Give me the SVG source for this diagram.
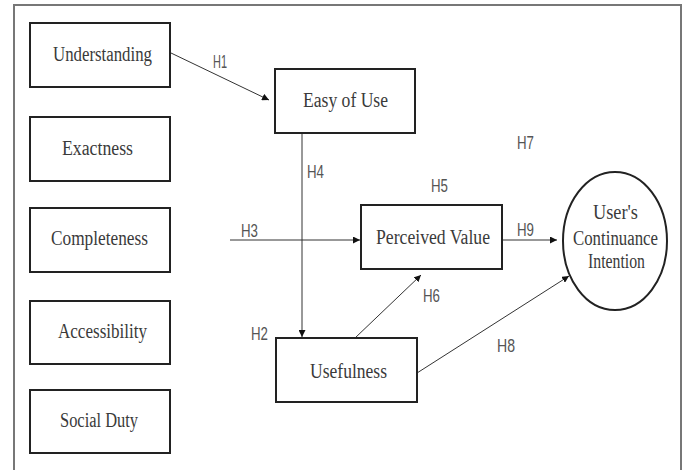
<svg xmlns="http://www.w3.org/2000/svg" width="687" height="470" viewBox="0 0 687 470">
<defs>
<marker id="arr" viewBox="0 0 10 10" refX="10" refY="5" markerWidth="7" markerHeight="7" markerUnits="userSpaceOnUse" orient="auto">
<path d="M0,0 L10,5 L0,10 z" fill="#111"/>
</marker>
</defs>
<style>
.box{fill:#fff;stroke:#222;stroke-width:2}
.t{font-size:20px;fill:#3a3a3a;text-anchor:middle}
.lbl{font-size:19px;fill:#555}
.c{stroke:#333;stroke-width:1;fill:none;marker-end:url(#arr)}
</style>
<rect width="687" height="470" fill="#fff"/>
<path d="M14,470 L14,5 L681,5 L681,470" fill="none" stroke="#777" stroke-width="2"/>
<g id="connectors">
<line class="c" x1="171" y1="53" x2="269" y2="100"/>
<line class="c" x1="302" y1="134" x2="302" y2="337"/>
<line class="c" x1="230" y1="240" x2="360" y2="240"/>
<line class="c" x1="502" y1="240" x2="557" y2="240"/>
<line class="c" x1="355" y1="338" x2="421" y2="275"/>
<line class="c" x1="417" y1="373" x2="569" y2="276"/>
</g>
<g id="labels" font-family="Liberation Sans, Arial, sans-serif">
<text class="lbl" x="213" y="68" textLength="14" lengthAdjust="spacingAndGlyphs">H1</text>
<text class="lbl" x="307" y="178" textLength="17" lengthAdjust="spacingAndGlyphs">H4</text>
<text class="lbl" x="241" y="237" textLength="17" lengthAdjust="spacingAndGlyphs">H3</text>
<text class="lbl" x="251" y="340" textLength="17" lengthAdjust="spacingAndGlyphs">H2</text>
<text class="lbl" x="431" y="192" textLength="17" lengthAdjust="spacingAndGlyphs">H5</text>
<text class="lbl" x="517" y="149" textLength="17" lengthAdjust="spacingAndGlyphs">H7</text>
<text class="lbl" x="517" y="236" textLength="17" lengthAdjust="spacingAndGlyphs">H9</text>
<text class="lbl" x="423" y="302" textLength="17" lengthAdjust="spacingAndGlyphs">H6</text>
<text class="lbl" x="497" y="352" textLength="18" lengthAdjust="spacingAndGlyphs">H8</text>
</g>
<g font-family="Liberation Serif, Times New Roman, DejaVu Serif, serif">
<g id="understanding"><rect class="box" x="30" y="23" width="140" height="64"/><text class="t" x="102.5" y="61" textLength="99" lengthAdjust="spacingAndGlyphs">Understanding</text></g>
<g id="exactness"><rect class="box" x="30" y="117" width="140" height="64"/><text class="t" x="97.5" y="155" textLength="71" lengthAdjust="spacingAndGlyphs">Exactness</text></g>
<g id="completeness"><rect class="box" x="30" y="208" width="140" height="64"/><text class="t" x="99.5" y="245" textLength="97" lengthAdjust="spacingAndGlyphs">Completeness</text></g>
<g id="accessibility"><rect class="box" x="30" y="301" width="140" height="63"/><text class="t" x="102.5" y="338" textLength="89" lengthAdjust="spacingAndGlyphs">Accessibility</text></g>
<g id="socialduty"><rect class="box" x="30" y="390" width="140" height="63"/><text class="t" x="99" y="427" textLength="78" lengthAdjust="spacingAndGlyphs">Social Duty</text></g>
<g id="easyofuse"><rect class="box" x="275" y="69" width="140" height="64"/><text class="t" x="345.5" y="107" textLength="85" lengthAdjust="spacingAndGlyphs">Easy of Use</text></g>
<g id="perceivedvalue"><rect class="box" x="361" y="205" width="141" height="64"/><text class="t" x="433" y="244" textLength="114" lengthAdjust="spacingAndGlyphs">Perceived Value</text></g>
<g id="usefulness"><rect class="box" x="276" y="338" width="141" height="64"/><text class="t" x="348.5" y="378" textLength="77" lengthAdjust="spacingAndGlyphs">Usefulness</text></g>
<g id="intention"><ellipse cx="615" cy="241" rx="52" ry="69" fill="#fff" stroke="#222" stroke-width="2"/>
<text class="t" x="615.5" y="219" textLength="45" lengthAdjust="spacingAndGlyphs">User's</text>
<text class="t" x="615.5" y="245" textLength="85" lengthAdjust="spacingAndGlyphs">Continuance</text>
<text class="t" x="616.5" y="268" textLength="57" lengthAdjust="spacingAndGlyphs">Intention</text></g>
</g>
</svg>
